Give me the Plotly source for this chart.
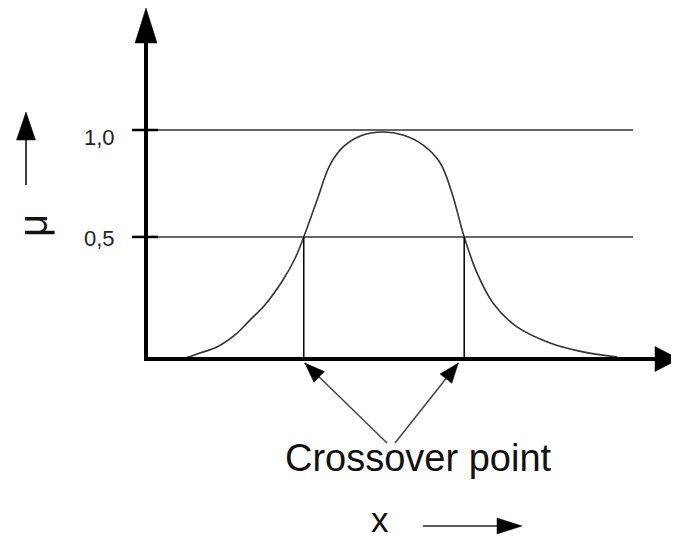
import plotly.graph_objects as go

# ---- data (arbitrary x units, membership degree mu) ----
curve_x = [4.9, 7.3, 10.1, 13.3, 16.7, 19.5, 22.3, 25.7, 28.0, 29.6, 32.1, 34.5,
           37.0, 40.2, 44.5, 48.2, 52.0, 55.2, 57.4, 59.7, 62.1, 65.1, 69.6,
           75.8, 82.0, 88.4]
curve_mu = [0.0, 0.004, 0.026, 0.052, 0.105, 0.17, 0.236, 0.345, 0.441, 0.533,
            0.694, 0.847, 0.926, 0.974, 0.991, 0.978, 0.934, 0.856, 0.725,
            0.533, 0.376, 0.245, 0.140, 0.070, 0.031, 0.009]
level_mu = [0.533, 1.0]
level_labels = ["0,5", "1,0"]
crossover_x = [29.6, 59.7]
level_line_end = 91.4
label_text = "Crossover point"
y_title = "μ"
x_title = "x"

# ---- pixel geometry helpers (screen pixels of the 679x539 window) ----
WIN_W, WIN_H = 679, 539
OFF = 8                  # default page body margin
W, H = WIN_W - OFF, WIN_H - OFF
PX0, PY0 = 146, 359      # screen pixel position of origin
SX, SY = 5.33, 229.0     # pixels per unit

def dx(p):
    return (p - PX0) / SX

def dy(p):
    return (PY0 - p) / SY

def to_px(x, y):
    return PX0 + x * SX, PY0 - y * SY

def head_path(tip, tail, L, hw):
    """Triangle arrowhead in data coords; tip/tail in data coords, sizes in px."""
    tx, ty = to_px(*tip)
    sx, sy = to_px(*tail)
    vx, vy = tx - sx, ty - sy
    n = (vx ** 2 + vy ** 2) ** 0.5
    ux, uy = vx / n, vy / n
    bx, by = tx - L * ux, ty - L * uy
    px_, py_ = -uy, ux
    pts = [(tx, ty), (bx + hw * px_, by + hw * py_), (bx - hw * px_, by - hw * py_)]
    d = [(dx(a), dy(b)) for a, b in pts]
    return "M {},{} L {},{} L {},{} Z".format(d[0][0], d[0][1], d[1][0], d[1][1], d[2][0], d[2][1])

fig = go.Figure()

fig.add_trace(go.Scatter(
    x=curve_x, y=curve_mu, mode="lines",
    line=dict(color="#333333", width=1.6, shape="spline", smoothing=1.0),
    hoverinfo="skip", showlegend=False))

shapes = []
for m in level_mu:
    shapes.append(dict(type="line", xref="x", yref="y", x0=dx(132), x1=level_line_end,
                       y0=m, y1=m, line=dict(color="#333333", width=1.5)))
    shapes.append(dict(type="line", xref="x", yref="y", x0=dx(132), x1=dx(158),
                       y0=m, y1=m, line=dict(color="black", width=2.5)))
for cx in crossover_x:
    shapes.append(dict(type="line", xref="x", yref="y", x0=cx, x1=cx,
                       y0=0, y1=level_mu[0], line=dict(color="black", width=1.5)))

# axes
y_tip = dy(8)
x_tip = dx(679)
shapes.append(dict(type="line", xref="x", yref="y", x0=0, x1=0, y0=dy(361), y1=dy(42),
                   line=dict(color="black", width=4)))
shapes.append(dict(type="line", xref="x", yref="y", x0=dx(144), x1=dx(656), y0=0, y1=0,
                   line=dict(color="black", width=4)))
shapes.append(dict(type="path", xref="x", yref="y", path=head_path((0, y_tip), (0, 0), 35, 11),
                   fillcolor="black", line=dict(color="black", width=0.5)))
shapes.append(dict(type="path", xref="x", yref="y", path=head_path((x_tip, 0), (0, 0), 24, 12.5),
                   fillcolor="black", line=dict(color="black", width=0.5)))

# crossover pointer arrows
tails = [(dx(387), dy(443)), (dx(395), dy(443))]
tips = [(crossover_x[0] + 0.2, dy(363)), (crossover_x[1] - 1.1, dy(363))]
for tp, tl in zip(tips, tails):
    shapes.append(dict(type="line", xref="x", yref="y", x0=tl[0], y0=tl[1], x1=tp[0], y1=tp[1],
                       line=dict(color="#444444", width=1.5)))
    shapes.append(dict(type="path", xref="x", yref="y", path=head_path(tp, tl, 20, 7.5),
                       fillcolor="black", line=dict(color="black", width=0.5)))

# mu arrow (left)
shapes.append(dict(type="line", xref="x", yref="y", x0=dx(26), x1=dx(26), y0=dy(185), y1=dy(138),
                   line=dict(color="black", width=1.5)))
shapes.append(dict(type="path", xref="x", yref="y",
                   path=head_path((dx(26), dy(112)), (dx(26), dy(185)), 28, 9.5),
                   fillcolor="black", line=dict(color="black", width=0.5)))
# x arrow (bottom)
shapes.append(dict(type="line", xref="x", yref="y", x0=dx(423), x1=dx(499), y0=dy(526), y1=dy(526),
                   line=dict(color="#222222", width=1.5)))
shapes.append(dict(type="path", xref="x", yref="y",
                   path=head_path((dx(522), dy(526)), (dx(423), dy(526)), 25, 8),
                   fillcolor="black", line=dict(color="black", width=0.5)))

annotations = []
shifts = {"0,5": -2, "1,0": -7}
for m, lab in zip(level_mu, level_labels):
    annotations.append(dict(x=dx(99), y=m, xref="x", yref="y", text=lab, showarrow=False,
                            xanchor="center", yanchor="middle", yshift=shifts[lab],
                            font=dict(family="Liberation Sans, Arial", size=22, color="#222222")))
annotations.append(dict(x=dx(418.5), y=dy(458), xref="x", yref="y", text=label_text,
                        showarrow=False, xanchor="center", yanchor="middle",
                        font=dict(family="Liberation Sans, Arial", size=38, color="#111111")))
annotations.append(dict(x=dx(380), y=dy(519), xref="x", yref="y", text=x_title,
                        showarrow=False, xanchor="center", yanchor="middle",
                        font=dict(family="Liberation Sans, Arial", size=35, color="#111111")))
annotations.append(dict(x=dx(33), y=dy(226), xref="x", yref="y", text=y_title, textangle=-90,
                        showarrow=False, xanchor="center", yanchor="middle",
                        font=dict(family="Liberation Sans, Arial", size=40, color="#111111")))

fig.update_layout(
    width=W, height=H,
    margin=dict(l=0, r=0, t=0, b=0),
    paper_bgcolor="white", plot_bgcolor="white",
    xaxis=dict(range=[dx(OFF), dx(WIN_W)], visible=False, fixedrange=True),
    yaxis=dict(range=[dy(WIN_H), dy(OFF)], visible=False, fixedrange=True),
    shapes=shapes, annotations=annotations, showlegend=False,
)

fig.write_html("out.html")
